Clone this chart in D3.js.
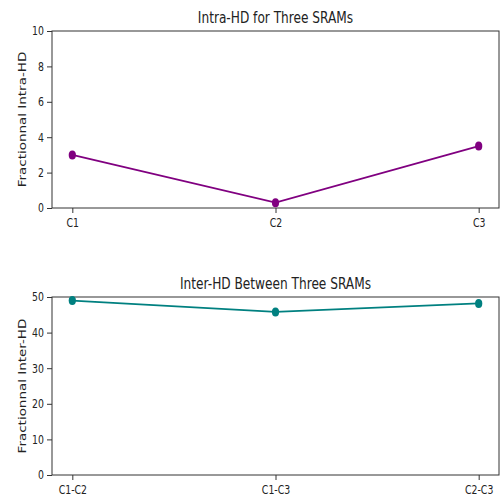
<!DOCTYPE html>
<html>
<head>
<meta charset="utf-8">
<script src="https://cdn.jsdelivr.net/npm/d3@7"></script>
<style>
  body { margin: 0; background: #fff; }
  text { font-family: "DejaVu Sans", sans-serif; fill: #222; }
</style>
</head>
<body>
<div id="chart"></div>
<script>
// data
var intraLabels = ["C1", "C2", "C3"];
var intraValues = [3.0, 0.3, 3.5];
var interLabels = ["C1-C2", "C1-C3", "C2-C3"];
var interValues = [49.0, 45.8, 48.2];
var intraTicks = [0, 2, 4, 6, 8, 10];
var interTicks = [0, 10, 20, 30, 40, 50];

var w = 502, h = 499;
// the reference looks squeezed sideways, so text gets narrowed too
var sx = 0.76;

var svg = d3.select("#chart").append("svg")
    .attr("width", w)
    .attr("height", h);

function drawPanel(opts) {
  var x0 = 52, x1 = 499;
  var n = opts.labels.length;

  // matplotlib style 5% margin on x
  var x = d3.scaleLinear()
      .domain([-0.1, n - 1 + 0.1])
      .range([x0, x1]);

  var y = d3.scaleLinear()
      .domain([0, opts.ymax])
      .range([opts.bottom, opts.top]);

  var g = svg.append("g");

  g.append("rect")
      .attr("x", x0)
      .attr("y", opts.top)
      .attr("width", x1 - x0)
      .attr("height", opts.bottom - opts.top)
      .attr("fill", "none")
      .attr("stroke", "#333")
      .attr("stroke-width", 1);

  var xAxis = d3.axisBottom(x)
      .tickValues(d3.range(n))
      .tickFormat(function(d) { return opts.labels[d]; })
      .tickSize(5)
      .tickPadding(5);

  var gx = g.append("g")
      .attr("transform", "translate(0," + opts.bottom + ")")
      .call(xAxis);
  gx.select(".domain").remove();
  gx.selectAll(".tick text")
      .attr("transform", "scale(" + sx + ",1)");

  var yAxis = d3.axisLeft(y)
      .tickValues(opts.ticks)
      .tickSize(5)
      .tickPadding(3);

  var gy = g.append("g")
      .attr("transform", "translate(" + x0 + ",0)")
      .call(yAxis);
  gy.select(".domain").remove();
  gy.selectAll(".tick text")
      .attr("x", -8 / sx)
      .attr("transform", "scale(" + sx + ",1)");

  g.selectAll(".tick line").attr("stroke", "#333");
  g.selectAll(".tick text")
      .style("font-family", "DejaVu Sans, sans-serif")
      .style("font-size", "12.3px")
      .attr("fill", "#222");

  g.append("text")
      .attr("transform", "translate(" + ((x0 + x1) / 2) + "," + (opts.top - 8) + ") scale(" + sx + ",1)")
      .attr("text-anchor", "middle")
      .style("font-size", "16px")
      .text(opts.title);

  g.append("text")
      .attr("transform", "translate(26," + ((opts.top + opts.bottom) / 2) + ") scale(" + sx + ",1) rotate(-90)")
      .attr("text-anchor", "middle")
      .style("font-size", "13.5px")
      .text(opts.ylabel);

  var line = d3.line()
      .x(function(d, i) { return x(i); })
      .y(function(d) { return y(d); });

  g.append("path")
      .datum(opts.values)
      .attr("d", line)
      .attr("fill", "none")
      .attr("stroke", opts.color)
      .attr("stroke-width", 1.8);

  g.selectAll("ellipse.pt")
      .data(opts.values)
      .enter().append("ellipse")
      .attr("class", "pt")
      .attr("cx", function(d, i) { return x(i); })
      .attr("cy", function(d) { return y(d); })
      .attr("rx", 3.6)
      .attr("ry", 4.5)
      .attr("fill", opts.color);
}

drawPanel({
  labels: intraLabels,
  values: intraValues,
  ticks: intraTicks,
  ymax: 10,
  top: 31,
  bottom: 208,
  title: "Intra-HD for Three SRAMs",
  ylabel: "Fractionnal Intra-HD",
  color: "#800080"
});

drawPanel({
  labels: interLabels,
  values: interValues,
  ticks: interTicks,
  ymax: 50,
  top: 297,
  bottom: 475,
  title: "Inter-HD Between Three SRAMs",
  ylabel: "Fractionnal Inter-HD",
  color: "#008080"
});
</script>
</body>
</html>
